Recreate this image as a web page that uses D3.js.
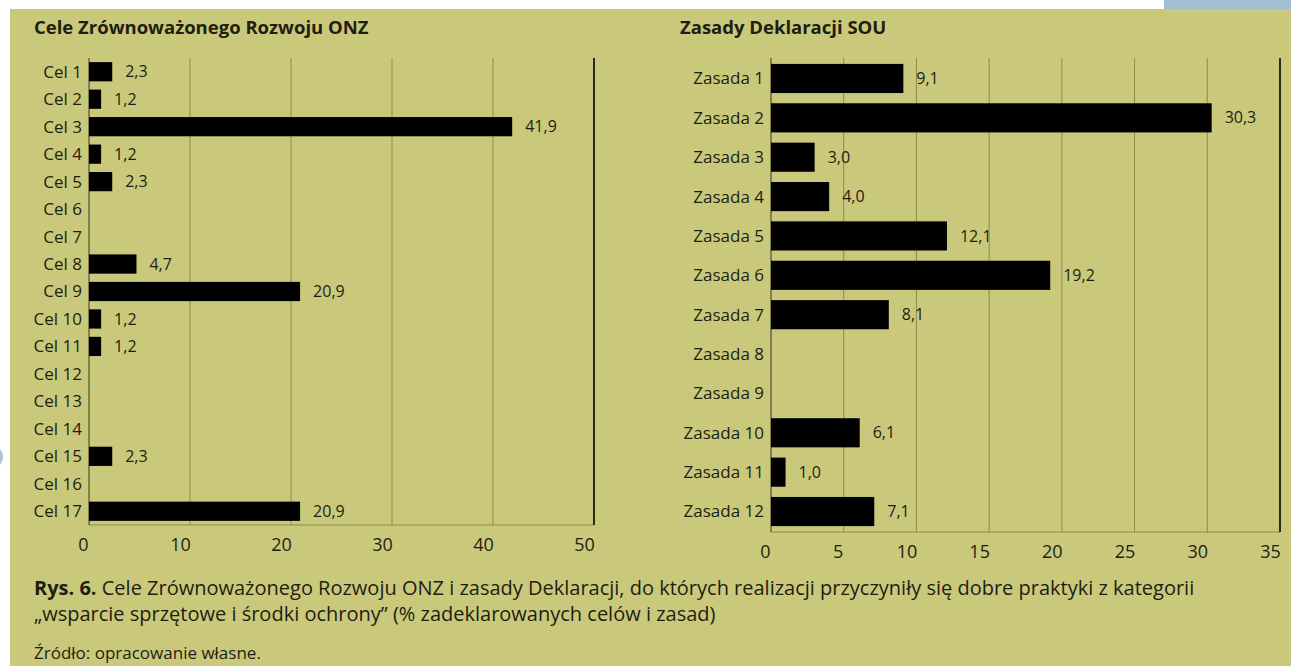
<!DOCTYPE html>
<meta charset="utf-8">
<style>
    body { margin: 0; background: #fff; }
    text { font-family: "Open Sans", sans-serif; fill: #1e1e12; }
    .grid line { stroke: #8d8b4c; stroke-width: 1; }
    .axis path, .axis line { display: none; }
</style>
<svg id="mainSVG" width="1291" height="666"></svg>
<script src="https://d3js.org/d3.v7.min.js"></script>
<script>
    // Cele Zrównoważonego Rozwoju ONZ
    var celLabels = ["Cel 1", "Cel 2", "Cel 3", "Cel 4", "Cel 5", "Cel 6", "Cel 7", "Cel 8", "Cel 9",
        "Cel 10", "Cel 11", "Cel 12", "Cel 13", "Cel 14", "Cel 15", "Cel 16", "Cel 17"];
    var celValues = [2.3, 1.2, 41.9, 1.2, 2.3, 0, 0, 4.7, 20.9, 1.2, 1.2, 0, 0, 0, 2.3, 0, 20.9];
    var celTicks = [0, 10, 20, 30, 40, 50];

    // Zasady Deklaracji SOU
    var zasadaLabels = ["Zasada 1", "Zasada 2", "Zasada 3", "Zasada 4", "Zasada 5", "Zasada 6",
        "Zasada 7", "Zasada 8", "Zasada 9", "Zasada 10", "Zasada 11", "Zasada 12"];
    var zasadaValues = [9.1, 30.3, 3.0, 4.0, 12.1, 19.2, 8.1, 0, 0, 6.1, 1.0, 7.1];
    var zasadaTicks = [0, 5, 10, 15, 20, 25, 30, 35];

    var svg = d3.select("#mainSVG");

    // background
    svg.append("rect").attr("x", 10).attr("y", 9).attr("width", 1281).attr("height", 657).attr("fill", "#cac97b");
    svg.append("rect").attr("x", 1164).attr("y", 0).attr("width", 127).attr("height", 9).attr("fill", "#a3bdd4");
    svg.append("circle").attr("cx", -9).attr("cy", 457).attr("r", 12).attr("fill", "#a9c4dd");

    var fmt = function (v) { return d3.format(".1f")(v).replace(".", ","); };

    function drawPanel(opts) {
        var g = svg.append("g");
        var x = d3.scaleLinear().domain([0, opts.max]).range([opts.x0, opts.x1]);
        var y = d3.scaleBand().domain(opts.labels).range([opts.y0, opts.y1]).paddingInner(opts.pad).paddingOuter(opts.padOuter);

        g.append("text")
            .attr("x", opts.titleX).attr("y", 34)
            .style("font-weight", "bold").style("font-size", "18.5px")
            .text(opts.title);

        // gridlines
        g.append("g").attr("class", "grid")
            .selectAll("line").data(opts.ticks.slice(1, -1))
            .enter().append("line")
            .attr("x1", function (d) { return x(d); }).attr("x2", function (d) { return x(d); })
            .attr("y1", opts.y0).attr("y2", opts.y1);

        // bottom line + left spine + right frame
        g.append("line").attr("x1", opts.x0).attr("x2", opts.x1).attr("y1", opts.y1).attr("y2", opts.y1)
            .attr("stroke", "#8d8b4c");
        g.append("line").attr("x1", opts.x0).attr("x2", opts.x0).attr("y1", opts.y0).attr("y2", opts.y1)
            .attr("stroke", "#3a3a22").attr("stroke-width", 1);
        g.append("line").attr("x1", opts.x1).attr("x2", opts.x1).attr("y1", opts.y0).attr("y2", opts.y1)
            .attr("stroke", "#2a2a1a").attr("stroke-width", 2);

        // bars
        var data = opts.labels.map(function (l, i) { return { label: l, value: opts.values[i] }; });
        g.selectAll("rect.bar").data(data.filter(function (d) { return d.value > 0; }))
            .enter().append("rect").attr("class", "bar")
            .attr("x", opts.x0)
            .attr("y", function (d) { return y(d.label); })
            .attr("width", function (d) { return x(d.value) - opts.x0; })
            .attr("height", y.bandwidth())
            .attr("fill", "#000");

        g.selectAll("text.val").data(data.filter(function (d) { return d.value > 0; }))
            .enter().append("text").attr("class", "val")
            .attr("x", function (d) { return x(d.value) + 13; })
            .attr("y", function (d) { return y(d.label) + y.bandwidth() / 2; })
            .attr("dy", "0.35em")
            .style("font-size", "16px")
            .text(function (d) { return fmt(d.value); });

        // category labels
        g.selectAll("text.cat").data(data)
            .enter().append("text").attr("class", "cat")
            .attr("x", opts.x0 - 7)
            .attr("y", function (d) { return y(d.label) + y.bandwidth() / 2; })
            .attr("dy", "0.35em")
            .attr("text-anchor", "end")
            .style("font-size", "17px")
            .text(function (d) { return d.label; });

        // tick labels
        var axis = g.append("g").attr("class", "axis")
            .attr("transform", "translate(0," + (opts.y1 + 4) + ")")
            .call(d3.axisBottom(x).tickValues(opts.ticks).tickSize(0).tickPadding(9));
        axis.selectAll("text")
            .style("font-size", "18px").style("font-family", "'Open Sans', sans-serif")
            .attr("fill", "#1e1e12")
            .attr("x", function (d) { return d < 10 ? -6 : -10; });
    }

    drawPanel({
        title: "Cele Zrównoważonego Rozwoju ONZ", titleX: 34,
        labels: celLabels, values: celValues, ticks: celTicks, max: 50,
        x0: 89, x1: 594, y0: 58, y1: 525, pad: 0.3, padOuter: 0.15
    });

    drawPanel({
        title: "Zasady Deklaracji SOU", titleX: 680,
        labels: zasadaLabels, values: zasadaValues, ticks: zasadaTicks, max: 35,
        x0: 771, x1: 1280, y0: 58, y1: 532, pad: 0.26, padOuter: 0.15
    });

    // caption
    var cap = svg.append("text").attr("x", 34).attr("y", 595).style("font-size", "20px");
    cap.append("tspan").style("font-weight", "bold").text("Rys. 6.");
    cap.append("tspan").text(" Cele Zrównoważonego Rozwoju ONZ i zasady Deklaracji, do których realizacji przyczyniły się dobre praktyki z kategorii");
    svg.append("text").attr("x", 34).attr("y", 621).style("font-size", "20px")
        .text("„wsparcie sprzętowe i środki ochrony” (% zadeklarowanych celów i zasad)");
    svg.append("text").attr("x", 34).attr("y", 659).style("font-size", "17px")
        .text("Źródło: opracowanie własne.");
</script>
